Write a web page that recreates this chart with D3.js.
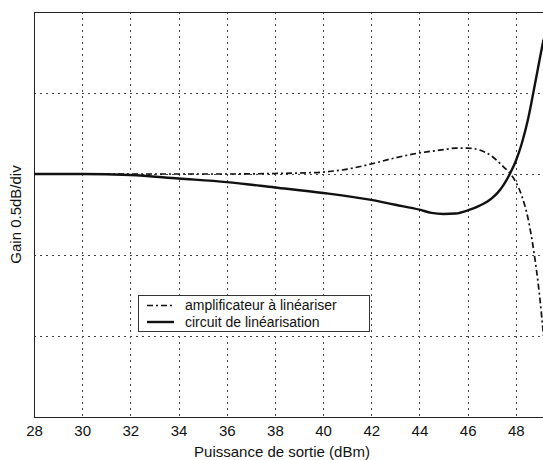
<!DOCTYPE html>
<html>
<head>
<meta charset="utf-8">
<script src="https://cdn.jsdelivr.net/npm/d3@7"></script>
<style>
  html, body { margin: 0; padding: 0; background: #fff; }
  svg { display: block; font-family: "Liberation Sans", Arial, sans-serif; }
</style>
</head>
<body>
<svg id="chart" width="543" height="460"></svg>
<script>
// Output power (dBm) and relative gain (dB) for both curves
const powerAmp = [28, 30, 32, 34, 36, 38, 39, 40, 41, 42, 43, 44, 45, 45.5, 46, 46.5, 47, 47.5, 47.75, 48, 48.25, 48.5, 48.75, 49, 49.15];
const gainAmp  = [0, 0, 0, 0, 0, 0.003, 0.006, 0.012, 0.03, 0.062, 0.1, 0.13, 0.15, 0.16, 0.16, 0.148, 0.11, 0.043, 0.006, -0.05, -0.136, -0.27, -0.48, -0.77, -1.0];

const powerLin = [28, 30, 32, 34, 36, 38, 40, 42, 43, 44, 44.5, 45, 45.5, 46, 46.5, 47, 47.25, 47.5, 47.75, 48, 48.25, 48.5, 48.75, 49, 49.15];
const gainLin  = [0, 0, -0.006, -0.028, -0.05, -0.083, -0.117, -0.16, -0.19, -0.22, -0.24, -0.247, -0.244, -0.225, -0.195, -0.15, -0.115, -0.065, 0.0, 0.08, 0.19, 0.333, 0.52, 0.716, 0.83];

const xTicks = [28, 30, 32, 34, 36, 38, 40, 42, 44, 46, 48];
const yGrid  = [-1.5, -1.0, -0.5, 0, 0.5, 1.0];

const legendLabels = ["amplificateur à linéariser", "circuit de linéarisation"];

const svg = d3.select("#chart");
const m = { left: 34, right: 564, top: 12, bottom: 417 };
const fs = 15;

const x = d3.scaleLinear().domain([28, 50]).range([m.left, m.right]);
const y = d3.scaleLinear().domain([-1.5, 1.0]).range([m.bottom, m.top]);

svg.append("defs").append("clipPath").attr("id", "plot")
  .append("rect").attr("x", m.left).attr("y", m.top)
  .attr("width", m.right - m.left).attr("height", m.bottom - m.top);

// dotted grid
const grid = svg.append("g").attr("stroke", "#444").attr("stroke-width", 1)
  .attr("stroke-dasharray", "2,4");
grid.selectAll(".vx").data(xTicks.slice(1)).join("line")
  .attr("x1", d => Math.round(x(d)) + 0.5).attr("x2", d => Math.round(x(d)) + 0.5)
  .attr("y1", m.top).attr("y2", m.bottom);
grid.selectAll(".hy").data(yGrid.slice(1, -1)).join("line")
  .attr("y1", d => Math.round(y(d)) + 0.5).attr("y2", d => Math.round(y(d)) + 0.5)
  .attr("x1", m.left).attr("x2", m.right);

// axes frame
svg.append("rect").attr("x", m.left + 0.5).attr("y", m.top + 0.5)
  .attr("width", m.right - m.left).attr("height", m.bottom - m.top)
  .attr("fill", "none").attr("stroke", "#222").attr("stroke-width", 1);

// x axis tick labels
const xAxis = d3.axisBottom(x).tickValues(xTicks).tickSize(0).tickPadding(8)
  .tickFormat(d3.format("d"));
const gx = svg.append("g").attr("transform", `translate(0,${m.bottom})`).call(xAxis);
gx.select(".domain").remove();
gx.selectAll("text").attr("font-size", fs).attr("fill", "#111")
  .attr("font-family", "Liberation Sans, Arial, sans-serif");

// axis titles
svg.append("text").attr("x", 282).attr("y", 457)
  .attr("text-anchor", "middle").attr("font-size", fs).attr("fill", "#111")
  .text("Puissance de sortie (dBm)");
svg.append("text")
  .attr("transform", `translate(17,${(m.top + m.bottom) / 2}) rotate(-90)`)
  .attr("text-anchor", "middle").attr("dominant-baseline", "middle")
  .attr("font-size", fs).attr("fill", "#111")
  .text("Gain 0.5dB/div");

// curves
const line = d3.line().x(d => x(d[0])).y(d => y(d[1])).curve(d3.curveMonotoneX);
const curves = svg.append("g").attr("clip-path", "url(#plot)");
curves.append("path").datum(d3.zip(powerAmp, gainAmp))
  .attr("d", line).attr("fill", "none").attr("stroke", "#111")
  .attr("stroke-width", 1.7).attr("stroke-dasharray", "6,3,2,3");
curves.append("path").datum(d3.zip(powerLin, gainLin))
  .attr("d", line).attr("fill", "none").attr("stroke", "#111")
  .attr("stroke-width", 2.4);

// legend
const lg = svg.append("g");
lg.append("rect").attr("x", 138.5).attr("y", 295.5).attr("width", 231).attr("height", 36)
  .attr("fill", "#fff").attr("stroke", "#333").attr("stroke-width", 1);
const rows = [
  { label: legendLabels[0], dash: "6,3,2,3", w: 1.7, yy: 305.5 },
  { label: legendLabels[1], dash: null, w: 2.4, yy: 322 }
];
rows.forEach(r => {
  lg.append("line").attr("x1", 147).attr("x2", 174).attr("y1", r.yy).attr("y2", r.yy)
    .attr("stroke", "#111").attr("stroke-width", r.w)
    .attr("stroke-dasharray", r.dash);
  lg.append("text").attr("x", 185).attr("y", r.yy + 4.5).attr("font-size", 14)
    .attr("fill", "#111").text(r.label);
});
</script>
</body>
</html>
